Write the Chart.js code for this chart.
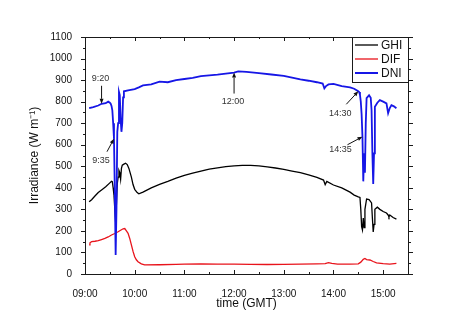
<!DOCTYPE html>
<html>
<head>
<meta charset="utf-8">
<script src="https://cdn.jsdelivr.net/npm/chart.js@4.4.1/dist/chart.umd.min.js"></script>
<style>
html, body { margin: 0; padding: 0; background: #fff; }
</style>
</head>
<body>
<canvas id="irr" width="474" height="330"></canvas>
<script>
// global horizontal irradiance
var ghiTime = ['9:05','9:08','9:12','9:16','9:20','9:25','9:30','9:32','9:33','9:34','9:35','9:36','9:37','9:38','9:39','9:40','9:41','9:42','9:43','9:44','9:45','9:47','9:49','9:51','9:53','9:56','9:58','10:00','10:03','10:05','10:10','10:20','10:30','10:40','10:50','11:00','11:10','11:20','11:30','11:40','11:50','12:00','12:10','12:20','12:30','12:40','12:50','13:00','13:10','13:20','13:30','13:40','13:48','13:50','13:52','14:00','14:10','14:20','14:25','14:30','14:32','14:33','14:34','14:35','14:36','14:37','14:38','14:40','14:43','14:46','14:47','14:48','14:49','14:50','14:53','14:56','15:00','15:04','15:06','15:07','15:08','15:12','15:16'];
var ghiVal  = [335,345,362,378,390,405,423,430,428,400,365,300,240,330,420,450,480,470,440,490,505,510,514,508,490,450,415,393,378,372,380,400,416,430,445,458,468,478,487,493,498,502,504,504,502,497,492,486,478,470,460,448,436,415,430,413,400,380,366,358,355,300,220,205,260,215,300,348,345,330,260,195,230,300,310,300,290,283,274,265,274,262,255];

// diffuse irradiance
var difTime = ['9:05','9:06','9:08','9:12','9:16','9:20','9:24','9:28','9:32','9:36','9:40','9:43','9:46','9:48','9:50','9:52','9:54','9:56','9:58','10:00','10:02','10:04','10:08','10:12','10:30','10:50','11:00','11:20','11:40','12:00','12:20','12:40','13:00','13:20','13:40','13:50','13:54','13:58','14:05','14:20','14:30','14:33','14:36','14:38','14:40','14:44','14:48','14:52','15:00','15:08','15:16'];
var difVal  = [135,145,150,152,155,160,165,172,181,188,196,203,210,211,200,189,165,135,105,80,66,57,47,42,43,45,46,47,46,46,45,44,45,46,47,48,53,49,46,46,47,55,68,72,67,65,58,52,48,46,49];

// direct normal irradiance
var dniTime = ['9:05','9:10','9:16','9:20','9:25','9:28','9:30','9:31','9:32','9:33','9:34','9:35','9:36','9:37','9:38','9:39','9:40','9:41','9:42','9:43','9:44','9:45','9:46','9:47','9:52','10:00','10:05','10:10','10:20','10:30','10:40','10:50','11:00','11:10','11:20','11:30','11:40','11:50','12:00','12:05','12:15','12:30','12:45','13:00','13:10','13:20','13:30','13:40','13:47','13:49','13:51','13:54','14:00','14:10','14:20','14:25','14:30','14:31','14:32','14:33','14:34','14:35','14:36','14:37','14:38','14:39','14:40','14:43','14:45','14:46','14:47','14:48','14:49','14:50','14:53','14:56','15:00','15:04','15:06','15:08','15:10','15:13','15:16'];
var dniVal  = [770,775,782,790,793,800,795,790,780,760,700,628,380,88,300,660,700,845,830,720,660,700,820,848,852,858,866,875,880,893,890,900,905,910,918,922,925,930,935,940,938,932,926,920,912,903,897,890,884,862,872,880,882,872,866,860,848,845,832,800,740,637,430,560,470,700,816,830,818,760,560,418,560,776,795,807,800,792,746,770,784,778,769];

var seriesNames  = ['GHI', 'DIF', 'DNI'];
var seriesColors = ['#000000', '#e8131b', '#1616e6'];

var hourTicks = [9, 10, 11, 12, 13, 14, 15];

// labelled moments on the DNI trace
var noteLabels = ['9:20', '9:35', '12:00', '14:30', '14:35'];
// text offset from the arrow tip, and where the arrow tail starts (px)
var noteStyle = [
  { tx: -1, ty: -25, ax: 0,  ay: -18 },
  { tx: -13, ty: 22, ax: -7, ay: 13 },
  { tx: -1, ty: 29,  ax: 0,  ay: 21 },
  { tx: -18, ty: 22, ax: -12, ay: 13 },
  { tx: -22, ty: 13, ax: -15, ay: 8 }
];

function hrs(t) {
  var p = t.split(':');
  return +p[0] + (+p[1]) / 60;
}

function points(times, vals) {
  return times.map(function(t, i) { return { x: hrs(t), y: vals[i] }; });
}

function valueAt(times, vals, t) {
  var h = hrs(t);
  for (var i = 1; i < times.length; i++) {
    var h0 = hrs(times[i - 1]), h1 = hrs(times[i]);
    if (h >= h0 && h <= h1) {
      return vals[i - 1] + (vals[i] - vals[i - 1]) * (h - h0) / (h1 - h0);
    }
  }
  return vals[vals.length - 1];
}

function pad2(n) { return (n < 10 ? '0' : '') + n; }

function seg(ctx, x1, y1, x2, y2) {
  ctx.beginPath(); ctx.moveTo(x1, y1); ctx.lineTo(x2, y2); ctx.stroke();
}

var framePlugin = {
  id: 'frame',
  afterDatasetsDraw: function(chart) {
    var ctx = chart.ctx, a = chart.chartArea;
    var xs = chart.scales.x, ys = chart.scales.y;
    ctx.save();
    ctx.strokeStyle = '#1a1a1a';
    ctx.lineWidth = 1;
    ctx.strokeRect(a.left + 0.5, a.top + 0.5, a.right - a.left, a.bottom - a.top);

    // left/right ticks point outward, top/bottom ticks point inward
    for (var v = 0; v <= 1100; v += 50) {
      var py = Math.round(ys.getPixelForValue(v)) + 0.5;
      var len = v % 100 === 0 ? 4 : 2;
      seg(ctx, a.left - len, py, a.left, py);
      seg(ctx, a.right + 1, py, a.right + 1 + len, py);
    }
    for (var h = 9; h <= 15.5; h += 0.5) {
      var px = Math.round(xs.getPixelForValue(h)) + 0.5;
      var l2 = h % 1 === 0 ? 4 : 2;
      seg(ctx, px, a.bottom - l2, px, a.bottom);
      seg(ctx, px, a.top, px, a.top + l2);
    }

    // legend box in the top right corner
    var lx = a.right - 56, ly = a.top, lw = 56, lh = 45;
    ctx.fillStyle = '#fff';
    ctx.fillRect(lx + 0.5, ly + 0.5, lw, lh);
    ctx.strokeRect(lx + 0.5, ly + 0.5, lw, lh);
    ctx.font = '12px "Liberation Sans", Arial, sans-serif';
    ctx.textBaseline = 'middle';
    ctx.textAlign = 'left';
    chart.data.datasets.forEach(function(ds, i) {
      var yy = ly + 8 + i * 14;
      ctx.strokeStyle = ds.borderColor;
      ctx.lineWidth = i === 2 ? 2 : 1.3;
      seg(ctx, lx + 3, yy, lx + 26, yy);
      ctx.fillStyle = '#111';
      ctx.fillText(ds.label, lx + 29, yy + 1);
    });

    // arrows with time labels
    ctx.font = '9px "Liberation Sans", Arial, sans-serif';
    ctx.textAlign = 'center';
    ctx.strokeStyle = '#111';
    ctx.fillStyle = '#111';
    ctx.lineWidth = 1;
    noteLabels.forEach(function(t, i) {
      var s = noteStyle[i];
      var tipX = xs.getPixelForValue(hrs(t));
      var tipY = ys.getPixelForValue(valueAt(dniTime, dniVal, t));
      var tailX = tipX + s.ax, tailY = tipY + s.ay;
      var ang = Math.atan2(tipY - tailY, tipX - tailX);
      var hx = tipX - 5 * Math.cos(ang), hy = tipY - 5 * Math.sin(ang);
      seg(ctx, tailX, tailY, hx, hy);
      ctx.beginPath();
      ctx.moveTo(tipX, tipY);
      ctx.lineTo(hx + 2 * Math.sin(ang), hy - 2 * Math.cos(ang));
      ctx.lineTo(hx - 2 * Math.sin(ang), hy + 2 * Math.cos(ang));
      ctx.closePath();
      ctx.fill();
      ctx.fillStyle = '#333';
      ctx.fillText(t, tipX + s.tx, tipY + s.ty);
      ctx.fillStyle = '#111';
    });
    ctx.restore();
  }
};

var data = {
  datasets: [
    { label: seriesNames[0], data: points(ghiTime, ghiVal), borderColor: seriesColors[0], borderWidth: 1.3, order: 1 },
    { label: seriesNames[1], data: points(difTime, difVal), borderColor: seriesColors[1], borderWidth: 1.3, order: 2 },
    { label: seriesNames[2], data: points(dniTime, dniVal), borderColor: seriesColors[2], borderWidth: 1.8, order: 0 }
  ]
};

var tickFont = { family: '"Liberation Sans", Arial, sans-serif', size: 10 };
var titleFont = { family: '"Liberation Sans", Arial, sans-serif', size: 12 };

new Chart(document.getElementById('irr').getContext('2d'), {
  type: 'line',
  data: data,
  options: {
    responsive: false,
    animation: false,
    parsing: false,
    elements: { point: { radius: 0 }, line: { tension: 0, fill: false } },
    layout: { padding: { left: 0, right: 66, top: 37, bottom: 0 } },
    plugins: { legend: { display: false }, tooltip: { enabled: false } },
    scales: {
      x: {
        type: 'linear',
        min: 9,
        max: 15.5,
        grid: { display: false },
        border: { display: false },
        afterBuildTicks: function(scale) {
          scale.ticks = hourTicks.map(function(h) { return { value: h }; });
        },
        afterFit: function(scale) { scale.height = 56; },
        ticks: {
          autoSkip: false,
          maxRotation: 0,
          padding: 6,
          color: '#111',
          font: tickFont,
          callback: function(v) { return pad2(v) + ':00'; }
        },
        title: { display: true, text: 'time (GMT)', color: '#111', font: titleFont, padding: { top: 0, bottom: 19 } }
      },
      y: {
        min: 0,
        max: 1100,
        grid: { display: false },
        border: { display: false },
        afterFit: function(scale) { scale.width = 85; },
        ticks: {
          stepSize: 100,
          padding: 5,
          color: '#111',
          font: tickFont,
          callback: function(v) { return String(v); }
        },
        title: { display: true, text: 'Irradiance (W m\u207B\u00B9)', color: '#111', font: titleFont, padding: { top: 27, bottom: 0 } }
      }
    }
  },
  plugins: [framePlugin]
});
</script>
</body>
</html>
